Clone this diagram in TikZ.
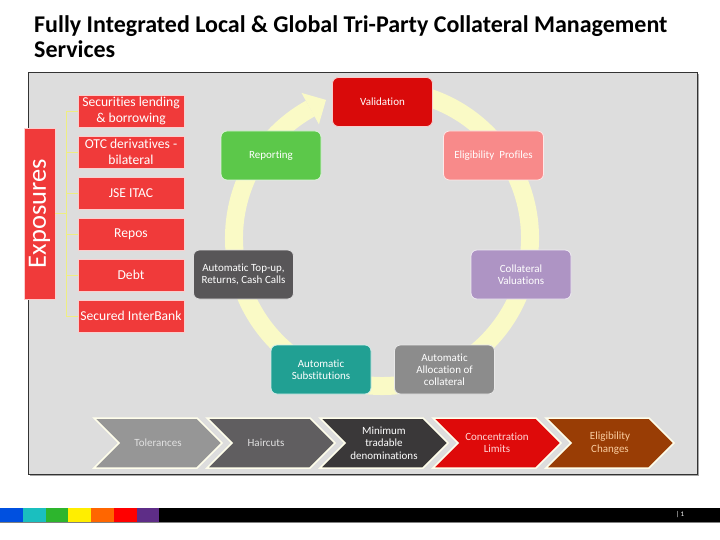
\documentclass[tikz,border=0pt]{standalone}
\usepackage{fontspec}
\setmainfont{Carlito}[Ligatures=NoCommon]
\usetikzlibrary{calc}
\definecolor{panelgray}{RGB}{221,221,221}
\definecolor{expred}{RGB}{240,58,58}
\definecolor{ringyel}{RGB}{250,250,198}
\definecolor{brkyel}{RGB}{238,238,130}
\definecolor{cValid}{RGB}{217,10,10}
\definecolor{cReport}{RGB}{92,200,74}
\definecolor{cElig}{RGB}{248,138,138}
\definecolor{cColl}{RGB}{174,148,196}
\definecolor{cAlloc}{RGB}{140,140,140}
\definecolor{cSubst}{RGB}{33,160,147}
\definecolor{cTop}{RGB}{88,86,88}
\definecolor{chA}{RGB}{150,150,150}
\definecolor{chB}{RGB}{96,94,96}
\definecolor{chC}{RGB}{58,56,57}
\definecolor{chD}{RGB}{222,10,10}
\definecolor{chE}{RGB}{153,61,5}
\definecolor{txA}{RGB}{225,225,225}
\definecolor{txD}{RGB}{255,215,215}
\definecolor{txE}{RGB}{250,205,160}
\definecolor{barA}{RGB}{0,80,224}
\definecolor{barB}{RGB}{26,191,191}
\definecolor{barC}{RGB}{45,181,45}
\definecolor{barD}{RGB}{255,238,0}
\definecolor{barE}{RGB}{255,102,0}
\definecolor{barF}{RGB}{255,0,0}
\definecolor{barG}{RGB}{94,45,135}
\newcommand\mychev[2]{%
  \fill[#2, draw=white!92!yellow, line width=1.5pt] (#1,418) -- (#1+103,418) -- (#1+128,443) -- (#1+103,468) -- (#1,468) -- (#1+25,443) -- cycle;}
\begin{document}
\begin{tikzpicture}[x=1pt,y=-1pt,
  expbox/.style={rectangle, fill=expred, draw=white!75!expred, line width=0.6pt, minimum width=106pt, minimum height=32pt, inner sep=0pt, text=white, align=center, font=\fontsize{13.6}{16}\selectfont},
  cyc/.style={rectangle, rounded corners=6pt, draw=white!80!#1, line width=0.8pt, fill=#1, minimum width=100pt, minimum height=49pt, inner sep=0pt, text=white, align=center, font=\fontsize{11}{12.2}\selectfont},
  chevtext/.style={text=white, align=center, font=\fontsize{11}{12.3}\selectfont, inner sep=0pt},
  bracket/.style={draw=brkyel, line width=0.8pt},
  titletext/.style={anchor=base west, inner sep=0pt, font=\fontsize{24}{28}\selectfont\bfseries}
]
\useasboundingbox (0,0) rectangle (720,540);
\fill[white] (0,0) rectangle (720,540);

% title
\node[titletext] (title1) at (34,33) {Fully Integrated Local \& Global Tri-Party Collateral Management};
\node[titletext] (title2) at (34,58) {Services};

% panel
\fill[black!35] (30,74) rectangle (699,476);
\draw[fill=panelgray, draw=black!80, line width=0.8pt] (28,72) rectangle (697,474);

% ring with arrow head
\draw[ringyel, line width=18pt] ($(382,238)+(-80:148)$) arc[start angle=-80, end angle=241, radius=148];
\fill[ringyel] (301.5,92.9) -- (326,99.9) -- (318.9,124.3) -- cycle;

% exposures
\node[rectangle, fill=expred, draw=white!75!expred, line width=0.6pt, rotate=90, minimum width=171pt, minimum height=31pt, inner sep=0pt, text=white, font=\fontsize{26.5}{28}\selectfont] (expo) at (39.5,213.5) {Exposures};

\node[expbox] (b1) at (131,111) {Securities lending\\\& borrowing};
\node[expbox] (b2) at (131,152) {OTC derivatives -\\bilateral};
\node[expbox] (b3) at (131,193) {JSE ITAC};
\node[expbox] (b4) at (131,234) {Repos};
\node[expbox] (b5) at (131,275) {Debt};
\node[expbox] (b6) at (131,316) {Secured InterBank};

\draw[bracket] (b1.west) -- ++(-11,0) |- (b6.west);
\draw[bracket] (b2.west) -- ++(-11,0);
\draw[bracket] (b3.west) -- ++(-11,0);
\draw[bracket] (b4.west) -- ++(-11,0);
\draw[bracket] (b5.west) -- ++(-11,0);
\draw[bracket] (expo.south) -- ++(12,0);

% cycle boxes
\node[cyc=cValid] (valid) at (382.5,102) {Validation};
\node[cyc=cReport] (report) at (271,155.5) {Reporting};
\node[cyc=cElig] (elig) at (493.5,155.5) {Eligibility\ \ Profiles};
\node[cyc=cTop] (topup) at (243.5,274.5) {Automatic Top-up,\\Returns, Cash Calls};
\node[cyc=cColl] (coll) at (521,274.5) {Collateral\\Valuations};
\node[cyc=cSubst] (subst) at (321,369.5) {Automatic\\Substitutions};
\node[cyc=cAlloc] (alloc) at (444.5,369.5) {Automatic\\Allocation of\\collateral};

% chevrons
\mychev{94}{chA}
\mychev{207}{chB}
\mychev{320}{chC}
\mychev{433}{chD}
\mychev{546}{chE}
\node[chevtext, text=txA] (t1) at (158,443) {Tolerances};
\node[chevtext, text=txA] (t2) at (266,443) {Haircuts};
\node[chevtext] (t3) at (384,443) {Minimum\\tradable\\denominations};
\node[chevtext, text=txD] (t4) at (497,443) {Concentration\\Limits};
\node[chevtext, text=txE] (t5) at (610,443) {Eligibility\\Changes};

% bottom bar
\fill[black] (0,508) rectangle (720,522);
\fill[black!50] (0,522) rectangle (720,523);
\fill[barA] (0,508) rectangle (23,522);
\fill[barB] (23,508) rectangle (46,522);
\fill[barC] (46,508) rectangle (68,522);
\fill[barD] (68,508) rectangle (91,522);
\fill[barE] (91,508) rectangle (114,522);
\fill[barF] (114,508) rectangle (137,522);
\fill[barG] (137,508) rectangle (159,522);
\node[text=white, inner sep=0pt, font=\fontsize{7}{8}\selectfont] (pnum) at (680,515) {| 1};
\end{tikzpicture}
\end{document}
